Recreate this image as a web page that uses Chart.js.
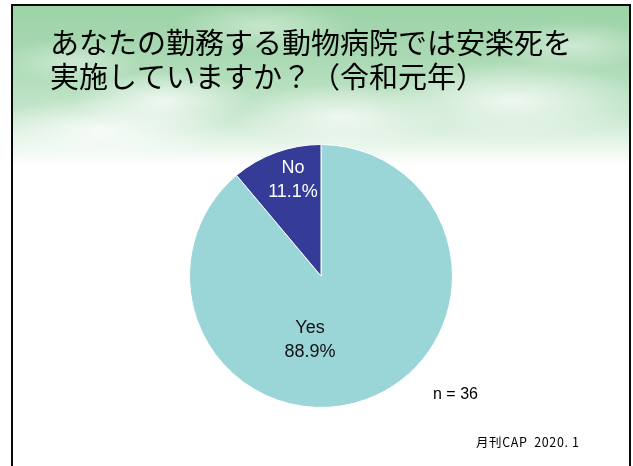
<!DOCTYPE html>
<html lang="ja">
<head>
<meta charset="UTF-8">
<title>安楽死の実施</title>
<script src="https://cdn.jsdelivr.net/npm/chart.js"></script>
<style>
  * { margin: 0; padding: 0; box-sizing: border-box; }
  body { width: 633px; height: 466px; background: #fff; overflow: hidden; position: relative; }

  /* slide frame with green sky at the top */
  .slide {
    position: absolute; left: 11px; top: 4px; width: 620px; height: 480px;
    border: 2px solid #0a0a0a; border-bottom: none;
    background:
      radial-gradient(ellipse 90px 30px at 150px 95px, rgba(255,255,255,0.75), rgba(255,255,255,0)),
      radial-gradient(ellipse 120px 35px at 90px 125px, rgba(255,255,255,0.8), rgba(255,255,255,0)),
      radial-gradient(ellipse 110px 32px at 330px 110px, rgba(255,255,255,0.7), rgba(255,255,255,0)),
      radial-gradient(ellipse 130px 40px at 500px 95px, rgba(255,255,255,0.75), rgba(255,255,255,0)),
      radial-gradient(ellipse 80px 25px at 560px 40px, rgba(255,255,255,0.45), rgba(255,255,255,0)),
      radial-gradient(ellipse 90px 25px at 250px 20px, rgba(255,255,255,0.4), rgba(255,255,255,0)),
      radial-gradient(ellipse 70px 22px at 60px 55px, rgba(255,255,255,0.4), rgba(255,255,255,0)),
      linear-gradient(to bottom, #9dd3a7 0px, #a9d9b3 50px, #c3e5ca 105px, #e9f6ec 140px, #ffffff 160px);
  }
  canvas { position: absolute; left: 0; top: 0; }
</style>
</head>
<body>
<div class="slide"></div>
<canvas id="chart" width="633" height="466"></canvas>

<script>
  // Data
  const categories = ['Yes', 'No'];
  const counts = [32, 4];
  const total = 36;
  const sliceColors = ['#9ad6d8', '#343c98'];
  const labelColors = ['#111111', '#ffffff'];
  // label offset from pie centre (px)
  const labelOffsets = [{ x: -11, y: 64 }, { x: -28, y: -96 }];

  const titleLines = ['あなたの勤務する動物病院では安楽死を', '実施していますか？（令和元年）'];
  const sampleNote = 'n = ' + total;
  const sourceNote = '月刊CAP  2020. 1';

  const slideText = {
    id: 'slideText',
    afterDraw(chart) {
      const ctx = chart.ctx;
      ctx.save();
      ctx.fillStyle = '#000';
      ctx.textBaseline = 'middle';
      ctx.textAlign = 'left';
      ctx.font = '29px "Noto Sans CJK JP", sans-serif';
      ctx.fillText(titleLines[0], 50, 43);
      ctx.fillText(titleLines[1], 50, 77);

      // slice labels
      const meta = chart.getDatasetMeta(0);
      ctx.textAlign = 'center';
      ctx.font = '18px "Liberation Sans", Arial, sans-serif';
      meta.data.forEach((arc, i) => {
        const pct = (counts[i] / total * 100).toFixed(1) + '%';
        const cx = arc.x + labelOffsets[i].x;
        const cy = arc.y + labelOffsets[i].y;
        ctx.fillStyle = labelColors[i];
        ctx.fillText(categories[i], cx, cy - 12);
        ctx.fillText(pct, cx, cy + 12);
      });

      ctx.fillStyle = '#000';
      ctx.textAlign = 'left';
      ctx.font = '16px "Liberation Sans", Arial, sans-serif';
      ctx.fillText(sampleNote, 433, 395);
      ctx.font = '12.5px "Noto Sans CJK JP", "Liberation Sans", sans-serif';
      ctx.letterSpacing = '0.6px';
      ctx.fillText(sourceNote, 476, 442);
      ctx.restore();
    }
  };

  new Chart(document.getElementById('chart'), {
    type: 'pie',
    data: {
      labels: categories,
      datasets: [{
        data: counts,
        backgroundColor: sliceColors,
        borderColor: '#ffffff',
        borderWidth: 1
      }]
    },
    options: {
      responsive: false,
      animation: false,
      layout: { padding: { top: 144, bottom: 58, left: 189, right: 180 } },
      plugins: {
        legend: { display: false },
        tooltip: { enabled: false },
        title: { display: false }
      }
    },
    plugins: [slideText]
  });
</script>
</body>
</html>
